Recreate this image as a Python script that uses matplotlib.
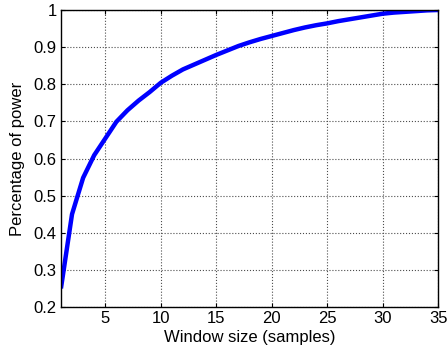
import matplotlib.pyplot as plt

# window size (samples) and fraction of power captured
window = [1, 2, 3, 4, 5, 6, 7, 8, 9, 10, 11, 12, 13, 14, 15, 16, 17, 18,
          19, 20, 21, 22, 23, 24, 25, 26, 27, 28, 29, 30, 31, 32, 33, 34, 35]
power = [0.250, 0.450, 0.548, 0.609, 0.654, 0.699, 0.730, 0.756, 0.779, 0.804,
         0.823, 0.840, 0.853, 0.866, 0.879, 0.891, 0.903, 0.913, 0.922, 0.930,
         0.938, 0.946, 0.953, 0.959, 0.964, 0.970, 0.975, 0.980, 0.985, 0.990,
         0.993, 0.995, 0.997, 0.999, 1.000]

x_ticks = [5, 10, 15, 20, 25, 30, 35]
y_ticks = [0.2, 0.3, 0.4, 0.5, 0.6, 0.7, 0.8, 0.9, 1.0]
y_labels = ['0.2', '0.3', '0.4', '0.5', '0.6', '0.7', '0.8', '0.9', '1']

plt.rcParams['font.family'] = ['Liberation Sans', 'DejaVu Sans']
plt.rcParams['font.size'] = 12

fig = plt.figure(figsize=(4.48, 3.57), dpi=100)
ax = fig.add_axes([0.136, 0.140, 0.842, 0.832])

ax.plot(window, power, color='#0000ff', lw=3.2, solid_capstyle='butt')

ax.set_xlim(1, 35)
ax.set_ylim(0.2, 1.0)
ax.set_xticks(x_ticks)
ax.set_yticks(y_ticks)
ax.set_yticklabels(y_labels)
ax.grid(True, linestyle=':', color='0.3', linewidth=0.8)
ax.tick_params(direction='in', top=True, right=True, length=3, width=0.8,
               labelsize=12, pad=3)
for s in ax.spines.values():
    s.set_linewidth(1.0)

ax.set_xlabel('Window size (samples)', labelpad=3)
ax.set_ylabel('Percentage of power', labelpad=6)

fig.savefig('out.png', dpi=100)
